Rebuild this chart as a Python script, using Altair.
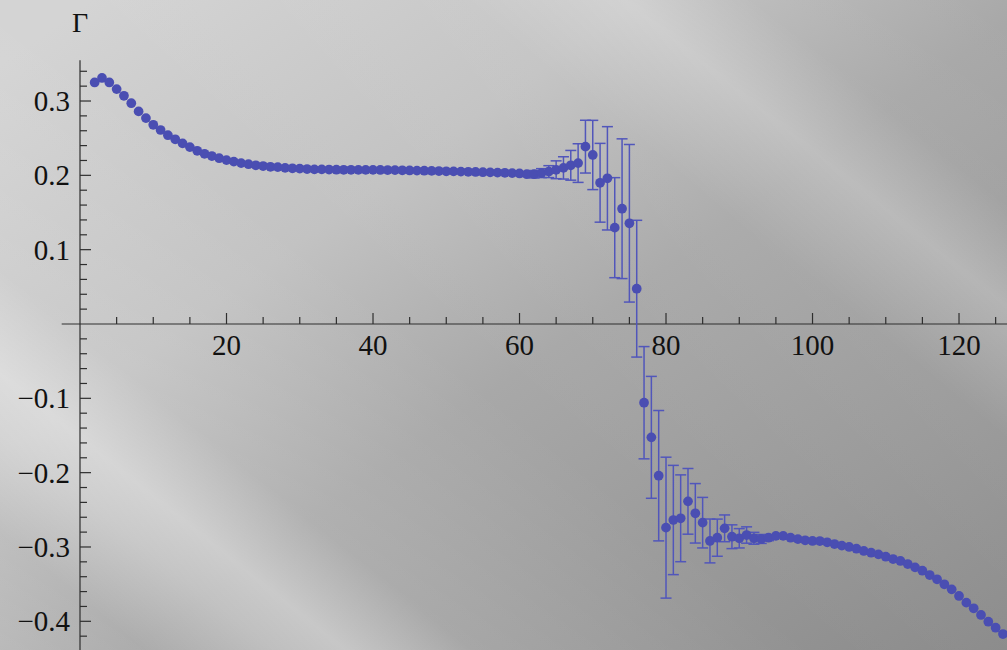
import altair as alt
import pandas as pd

# ---------------- data ----------------
x_vals = list(range(2, 127))
gamma = [
    0.325, 0.331, 0.325, 0.316, 0.307, 0.297, 0.286, 0.277, 0.268,
    0.261, 0.254, 0.2485, 0.243, 0.238, 0.233, 0.229, 0.226, 0.223, 0.2205,
    0.2185, 0.2165, 0.215, 0.2135, 0.2125, 0.2115, 0.211, 0.210, 0.2095, 0.209,
    0.2085, 0.208, 0.208, 0.2078, 0.2076, 0.2075, 0.2075, 0.2074, 0.2074, 0.2073,
    0.2072, 0.2071, 0.207, 0.2068, 0.2066, 0.2064, 0.2062, 0.206, 0.2058, 0.2055,
    0.2053, 0.205, 0.2048, 0.2045, 0.2042, 0.204, 0.2037, 0.2034, 0.203, 0.2025,
    0.2015, 0.2015, 0.203, 0.205, 0.2075, 0.210, 0.2135, 0.2165, 0.2386, 0.2274,
    0.190, 0.196, 0.1296, 0.1551, 0.1355, 0.0475, -0.1059, -0.1525, -0.2041, -0.274,
    -0.2637, -0.2614, -0.2386, -0.2547, -0.2673, -0.2919, -0.2875, -0.2749, -0.2862, -0.2883,
    -0.2839, -0.2883, -0.2892, -0.2875, -0.285, -0.285, -0.2875, -0.2895, -0.291, -0.2919,
    -0.292, -0.2937, -0.296, -0.2982, -0.300, -0.3023, -0.3054, -0.3077, -0.3099, -0.3131,
    -0.3162, -0.3188, -0.3229, -0.3274, -0.3319, -0.3377, -0.3435, -0.3502, -0.357, -0.3659,
    -0.3749, -0.3825, -0.3915, -0.4005, -0.4086, -0.4171,
]
err_x = [61, 62, 63, 64, 65, 66, 67, 68, 69, 70, 71, 72, 73, 74, 75, 76, 77,
         78, 79, 80, 81, 82, 83, 84, 85, 86, 87, 88, 89, 90, 91, 92, 93, 94]
err_val = [0.003, 0.005, 0.006, 0.008, 0.012, 0.015, 0.02, 0.026, 0.0355, 0.0466,
           0.053, 0.0695, 0.0673, 0.094, 0.106, 0.092, 0.0755, 0.082, 0.0877, 0.0948,
           0.0735, 0.0584, 0.0442, 0.040, 0.034, 0.0295, 0.025, 0.018, 0.016, 0.013,
           0.011, 0.008, 0.006, 0.004]

x_major = [20, 40, 60, 80, 100, 120]
x_major_labels = ["20", "40", "60", "80", "100", "120"]
x_minor = [5, 10, 15, 25, 30, 35, 45, 50, 55, 65, 70, 75, 85, 90, 95,
           105, 110, 115, 125]
y_major = [-0.4, -0.3, -0.2, -0.1, 0.1, 0.2, 0.3]
y_major_labels = ["\u22120.4", "\u22120.3", "\u22120.2", "\u22120.1", "0.1", "0.2", "0.3"]
y_minor = [-0.42, -0.38, -0.36, -0.34, -0.32, -0.28, -0.26, -0.24, -0.22,
           -0.18, -0.16, -0.14, -0.12, -0.08, -0.06, -0.04, -0.02,
           0.02, 0.04, 0.06, 0.08, 0.12, 0.14, 0.16, 0.18,
           0.22, 0.24, 0.26, 0.28, 0.32, 0.34]

# ---------------- tables ----------------
pts = pd.DataFrame({"x": x_vals, "g": gamma})
gmap = dict(zip(x_vals, gamma))
errs = pd.DataFrame({
    "x": err_x,
    "lo": [gmap[x] - e for x, e in zip(err_x, err_val)],
    "hi": [gmap[x] + e for x, e in zip(err_x, err_val)],
})
xmaj = pd.DataFrame({"t": x_major, "lab": x_major_labels})
xmin_df = pd.DataFrame({"t": x_minor})
ymaj = pd.DataFrame({"t": y_major, "lab": y_major_labels})
ymin_df = pd.DataFrame({"t": y_minor})
one = pd.DataFrame({"a": [0]})

W, H = 1007, 650
xs = alt.Scale(domain=[-10.922, 126.55], nice=False, zero=False)
ys = alt.Scale(domain=[-0.4386, 0.4359], nice=False, zero=False)

FONT = "Liberation Serif"
AX = "#2e2e2e"
PT = "#4a4eb2"
EB = "#5156bb"

def X(f):
    return alt.X(f, type="quantitative", scale=xs, axis=None)

def Y(f):
    return alt.Y(f, type="quantitative", scale=ys, axis=None)

xd = lambda v: alt.XDatum(v, type="quantitative", scale=xs, axis=None)
yd = lambda v: alt.YDatum(v, type="quantitative", scale=ys, axis=None)

bg = alt.Chart(one).mark_rect(fill={
    "gradient": "linear", "x1": 0, "y1": 0.1, "x2": 1, "y2": 1,
    "stops": [
        {"offset": 0.0, "color": "#d4d4d4"},
        {"offset": 0.3, "color": "#c2c2c2"},
        {"offset": 0.52, "color": "#a8a8a8"},
        {"offset": 0.8, "color": "#979797"},
        {"offset": 1.0, "color": "#8a8a8a"},
    ],
}).encode(x=alt.value(0), x2=alt.value(W), y=alt.value(0), y2=alt.value(H))

streak = alt.Chart(one).mark_rect(fill={
    "gradient": "linear", "x1": 0, "y1": 1, "x2": 1.094, "y2": 0.117,
    "stops": [
        {"offset": 0.0, "color": "rgba(255,255,255,0.12)"},
        {"offset": 0.08, "color": "rgba(255,255,255,0.05)"},
        {"offset": 0.15, "color": "rgba(255,255,255,0.30)"},
        {"offset": 0.19, "color": "rgba(255,255,255,0.40)"},
        {"offset": 0.26, "color": "rgba(255,255,255,0.10)"},
        {"offset": 0.45, "color": "rgba(255,255,255,0.0)"},
        {"offset": 0.70, "color": "rgba(255,255,255,0.05)"},
        {"offset": 0.79, "color": "rgba(255,255,255,0.25)"},
        {"offset": 0.86, "color": "rgba(255,255,255,0.03)"},
        {"offset": 1.0, "color": "rgba(255,255,255,0.0)"},
    ],
}).encode(x=alt.value(0), x2=alt.value(W), y=alt.value(0), y2=alt.value(H))

x_axis = alt.Chart(one).mark_rule(color=AX, strokeWidth=1.2).encode(
    x=xd(-2.5), x2=alt.X2Datum(126.55), y=yd(0))
y_axis = alt.Chart(one).mark_rule(color=AX, strokeWidth=1.2).encode(
    x=xd(0), y=yd(0.355), y2=alt.Y2Datum(-0.4386))

x_maj_ticks = alt.Chart(xmaj).mark_rule(color=AX, strokeWidth=1.2, y2Offset=-11).encode(
    x=X("t"), y=yd(0), y2=alt.Y2Datum(0))
x_min_ticks = alt.Chart(xmin_df).mark_rule(color=AX, strokeWidth=1.2, y2Offset=-7).encode(
    x=X("t"), y=yd(0), y2=alt.Y2Datum(0))
y_maj_ticks = alt.Chart(ymaj).mark_rule(color=AX, strokeWidth=1.2, x2Offset=11).encode(
    y=Y("t"), x=xd(0), x2=alt.X2Datum(0))
y_min_ticks = alt.Chart(ymin_df).mark_rule(color=AX, strokeWidth=1.2, x2Offset=7).encode(
    y=Y("t"), x=xd(0), x2=alt.X2Datum(0))

x_labels = alt.Chart(xmaj).mark_text(
    font=FONT, fontSize=29, color="#111111", align="center",
    baseline="alphabetic", dy=31).encode(x=X("t"), y=yd(0), text="lab:N")
y_labels = alt.Chart(ymaj).mark_text(
    font=FONT, fontSize=29, color="#111111", align="right",
    baseline="middle", dx=-10, dy=1).encode(x=xd(0), y=Y("t"), text="lab:N")
g_label = alt.Chart(one).mark_text(
    font=FONT, fontSize=28, color="#111111", align="center",
    baseline="alphabetic", dy=-28, text="\u0393").encode(x=xd(0), y=yd(0.355))

bars = alt.Chart(errs).mark_rule(color=EB, strokeWidth=1.5).encode(
    x=X("x"), y=Y("lo"), y2="hi")
cap_hi = alt.Chart(errs).mark_rule(color=EB, strokeWidth=1.5, xOffset=-5.5, x2Offset=5.5).encode(
    x=X("x"), x2="x", y=Y("hi"))
cap_lo = alt.Chart(errs).mark_rule(color=EB, strokeWidth=1.5, xOffset=-5.5, x2Offset=5.5).encode(
    x=X("x"), x2="x", y=Y("lo"))

points = alt.Chart(pts).mark_circle(color=PT, size=95, opacity=1).encode(
    x=X("x"), y=Y("g"))

chart = alt.layer(
    bg, streak, x_axis, y_axis, x_maj_ticks, x_min_ticks, y_maj_ticks, y_min_ticks,
    x_labels, y_labels, g_label, bars, cap_hi, cap_lo, points,
).properties(
    width=W, height=H, padding=0, autosize="none", background="#b0b0b0",
).configure_view(stroke=None)

chart.save("out.html", embed_options={"renderer": "svg", "actions": False})
